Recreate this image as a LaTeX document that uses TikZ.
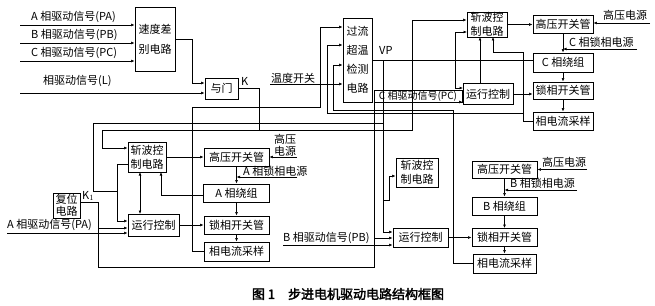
\documentclass[tikz,border=0pt]{standalone}
\usepackage{fontspec}
\newfontfamily\cjk[AutoFakeBold=2.5]{Noto Sans CJK SC}
\usetikzlibrary{arrows.meta}
\begin{document}
\begin{tikzpicture}[x=1pt,y=-1pt,
  every node/.style={font=\cjk\fontsize{11}{12}\selectfont, inner sep=0pt},
  box/.style={draw, line width=0.8pt, align=center},
  lbl/.style={anchor=west},
  wire/.style={line width=0.6pt},
  arr/.style={wire, -{Latex[length=3.5pt,width=2.8pt]}},
  darr/.style={wire, {Latex[length=3.5pt,width=2.8pt]}-{Latex[length=3.5pt,width=2.8pt]}}]
\useasboundingbox (0,0) rectangle (655,305);
% ---------- boxes ----------
\node[box,minimum width=40pt,minimum height=64pt] (sdc) at (155,39) {速度差\\[8pt]别电路};
\node[box,minimum width=33pt,minimum height=21pt] (and) at (221.5,88.5) {与门};
\node[box,minimum width=29pt,minimum height=84pt] (gl) at (357.5,60) {过流\\[7pt]超温\\[7pt]检测\\[7pt]电路};
% C phase
\node[box,minimum width=40pt,minimum height=25pt] (Cchop) at (487,24.5) {斩波控\\[2pt]制电路};
\node[box,minimum width=60pt,minimum height=18pt] (Chv) at (563,24.5) {高压开关管};
\node[box,minimum width=60pt,minimum height=19pt] (Cwind) at (563,62.5) {C 相绕组};
\node[box,minimum width=60pt,minimum height=17pt] (Clock) at (563,90.5) {锁相开关管};
\node[box,minimum width=60pt,minimum height=18pt] (Csamp) at (563,121) {相电流采样};
\node[box,minimum width=50pt,minimum height=21pt] (Crun) at (488,94) {运行控制};
\node[box,line width=0.6pt,minimum width=88pt,minimum height=12pt,font=\cjk\fontsize{10}{12}\selectfont] (pc) at (418,96) {C 相驱动信号(PC)};
% A phase
\node[box,minimum width=38pt,minimum height=30pt] (Achop) at (147,157) {斩波控\\[2pt]制电路};
\node[box,minimum width=51pt,minimum height=22pt] (Arun) at (153.5,225) {运行控制};
\node[box,minimum width=65pt,minimum height=18pt] (Ahv) at (236.5,157) {高压开关管};
\node[box,minimum width=66pt,minimum height=18pt] (Awind) at (236.5,193) {A 相绕组};
\node[box,minimum width=65pt,minimum height=18pt] (Alock) at (236.5,225) {锁相开关管};
\node[box,minimum width=65pt,minimum height=19pt] (Asamp) at (236.5,251.5) {相电流采样};
\node[box,minimum width=27pt,minimum height=25pt] (reset) at (66.5,205.5) {复位\\电路};
% B phase
\node[box,minimum width=42pt,minimum height=29pt] (Bchop) at (417,172.5) {斩波控\\[2pt]制电路};
\node[box,minimum width=55pt,minimum height=19pt] (Brun) at (420.5,237.5) {运行控制};
\node[box,minimum width=65pt,minimum height=17pt] (Bhv) at (504.5,169.5) {高压开关管};
\node[box,minimum width=65pt,minimum height=18pt] (Bwind) at (504.5,206) {B 相绕组};
\node[box,minimum width=65pt,minimum height=18pt] (Block) at (504.5,237.5) {锁相开关管};
\node[box,minimum width=63pt,minimum height=19pt] (Bsamp) at (504.5,263.5) {相电流采样};
% ---------- labels ----------
\node[lbl] (tPA) at (31,17) {A 相驱动信号(PA)};
\node[lbl] (tPB) at (31,35) {B 相驱动信号(PB)};
\node[lbl] (tPC) at (31,53) {C 相驱动信号(PC)};
\node[lbl] (tL) at (43,81) {相驱动信号(L)};
\node[lbl] (tK) at (241,81) {K};
\node[lbl] (tT) at (271,78) {温度开关};
\node[lbl] (tVP) at (379,50) {VP};
\node[lbl] (tCH) at (603,15) {高压电源};
\node[lbl] (tCL) at (569,42) {C 相锁相电源};
\node[lbl,align=center] (tAH) at (274,145) {高压\\电源};
\node[lbl] (tAL) at (243,171) {A 相锁相电源};
\node[lbl] (tBH) at (542,162) {高压电源};
\node[lbl] (tBL) at (510,183) {B 相锁相电源};
\node[lbl] (tPB2) at (283,238) {B 相驱动信号(PB)};
\node[lbl] (tPA2) at (7,225) {A 相驱动信号(PA)};
\node[lbl] (tK1) at (82,196) {K$_1$};
\node[font=\cjk\fontsize{13}{14}\selectfont\bfseries] (cap) at (348,294) {图 1\quad 步进电机驱动电路结构框图};
% ---------- connectors ----------
\draw[arr] (20,25) -- (20,25 -| sdc.west);
\draw[arr] (20,43) -- (20,43 -| sdc.west);
\draw[arr] (20,61) -- (20,61 -| sdc.west);
\draw[arr] (20,93) -- (20,93 -| and.west);
\draw[arr] (sdc.east) -- (192,39) -- (192,83) -- (192,83 -| and.west);
\coordinate (kb) at (259,130);
\draw[wire] (and.east) -- (259,88.5) -- (kb);
\draw[arr] (kb) -- (412,130) -- (412,20) -- (412,20 -| Cchop.west);
\draw[arr] (kb) -- (102,130) -- (102,148) -- (102,148 -| Achop.west);
\draw[arr] (270,84) -- (270,84 -| gl.west);
% VP
\coordinate (vp) at (383,60);
\draw[wire] (gl.east) -- (gl.east -| Cwind.west);
\draw[arr] (vp) -- (383,232) -- (383,232 -| Brun.west);
\draw[arr] (383,200) -- (389,200) -- (389,176) -- (389,176 -| Bchop.west);
\draw[wire] (383,123) -- (93,123) -- (93,191) -- (117,191);
% A phase
\draw[arr] (128,164) -- (117,164) -- (117,221) -- (117,221 -| Arun.west);
\draw[darr] (140,172) -- (140,214);
\draw[arr] (Achop.east) -- (Achop.east -| Ahv.west);
\draw[arr] (203.5,195) -- (161,195) -- (161,172);
\draw[arr] (Asamp.west) -- (192,251.5) -- (192,107) -- (320,107) -- (320,27) -- (320,27 -| gl.west);
\draw[arr] (Arun.east) -- (Arun.east -| Alock.west);
\draw[arr] (Ahv.south) -- (Awind.north);
\draw[arr] (Awind.south) -- (Alock.north);
\draw[arr] (Alock.south) -- (Asamp.north);
\draw[arr] (297,157) -- (297,157 -| Ahv.east);
\draw[arr] (297,177) -- (236.5,177);
% reset and drive signals
\draw[arr] (80,202) -- (98,202) -- (98,267) -- (374,267) -- (374,102) -- (374,102 -| Crun.west);
\draw[arr] (98,228) -- (98,228 -| Arun.west);
\draw[arr] (374,238) -- (374,238 -| Brun.west);
\draw[arr] (7,233) -- (7,233 -| Arun.west);
\draw[arr] (283,245) -- (283,245 -| Brun.west);
% B phase
\draw[arr] (Brun.east) -- (Brun.east -| Block.west);
\draw[arr] (Bhv.south) -- (Bwind.north);
\draw[arr] (Bwind.south) -- (Block.north);
\draw[arr] (Block.south) -- (Bsamp.north);
\draw[arr] (587,169.5) -- (587,169.5 -| Bhv.east);
\draw[arr] (577,190) -- (504.5,190);
\draw[arr] (Bsamp.west) -- (453,263.5) -- (453,110) -- (333,110) -- (333,65) -- (333,65 -| gl.west);
% C phase
\draw[arr] (Cchop.east) -- (Cchop.east -| Chv.west);
\draw[arr] (650,23) -- (650,23 -| Chv.east);
\draw[arr] (Chv.south) -- (Cwind.north);
\draw[arr] (637,49) -- (563,49);
\draw[arr] (Cwind.south) -- (Clock.north);
\draw[arr] (Clock.south) -- (Csamp.north);
\draw[arr] (Crun.east) -- (Crun.east -| Clock.west);
\draw[darr] (467,32) -- (455,32) -- (455,88) -- (463,88);
\draw[arr] (480,83.5) -- (480,37);
\draw[arr] (Csamp.west) -- (523,121) -- (523,52) -- (493,52) -- (493,37);
\draw[arr] (523,113) -- (327,113) -- (327,45) -- (327,45 -| gl.west);
\end{tikzpicture}
\end{document}
